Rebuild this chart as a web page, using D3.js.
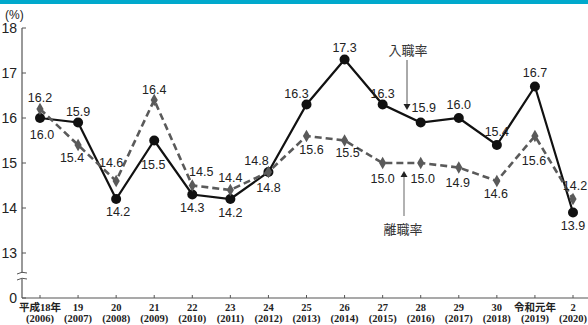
<!DOCTYPE html>
<html>
<head>
<meta charset="utf-8">
<script src="https://cdn.jsdelivr.net/npm/d3@7"></script>
<style>
  html, body { margin: 0; padding: 0; background: #fff; }
  svg { display: block; }
</style>
</head>
<body>
<svg id="chart" width="588" height="325"></svg>
<script>
const YEARS_JP = ['平成18年', '19', '20', '21', '22', '23', '24', '25', '26', '27', '28', '29', '30', '令和元年', '2'];
const YEARS_AD = ['(2006)', '(2007)', '(2008)', '(2009)', '(2010)', '(2011)', '(2012)', '(2013)', '(2014)', '(2015)', '(2016)', '(2017)', '(2018)', '(2019)', '(2020)'];
const HIRE_RATE = [16.0, 15.9, 14.2, 15.5, 14.3, 14.2, 14.8, 16.3, 17.3, 16.3, 15.9, 16.0, 15.4, 16.7, 13.9];
const SEP_RATE = [16.2, 15.4, 14.6, 16.4, 14.5, 14.4, 14.8, 15.6, 15.5, 15.0, 15.0, 14.9, 14.6, 15.6, 14.2];
const Y_TICKS = [0, 13, 14, 15, 16, 17, 18];

// label offsets [dx, dy] from each point
const HIRE_LABEL = [[2, 16], [0, -11], [2, 12], [-1, 24], [0, 13], [0, 13], [-12, -12], [-10, -11], [0, -12], [0, -11], [3, -15], [0, -14], [0, -14], [0, -14], [0, 13]];
const SEP_LABEL = [[0, -12], [-6, 12], [-5, -19], [0, -11], [9, -14], [0, -13], [0, 15], [5, 13], [3, 12], [0, 15], [2, 15], [-1, 15], [-1, 12], [-1, 24], [2, -14]];

const svg = d3.select('#chart');
const x = d3.scalePoint().domain(d3.range(YEARS_JP.length)).range([40, 573]);
const y = d3.scaleLinear().domain([0, 13, 18]).range([298, 253, 28]);
const axisX = 22;

svg.append('rect').attr('x', 0).attr('y', 0).attr('width', 588).attr('height', 4).attr('fill', '#00a9cc');

svg.append('text').attr('x', 5).attr('y', 19)
  .attr('font-family', 'Liberation Sans, Noto Sans CJK JP').attr('font-size', '12px').attr('fill', '#222')
  .text('(%)');

// y axis
svg.append('line').attr('x1', axisX).attr('x2', axisX).attr('y1', y(18)).attr('y2', y(0))
  .attr('stroke', '#555').attr('stroke-width', 1.2);
svg.append('g').selectAll('line').data(Y_TICKS).join('line')
  .attr('x1', axisX).attr('x2', axisX + 4)
  .attr('y1', (d) => y(d)).attr('y2', (d) => y(d))
  .attr('stroke', '#555').attr('stroke-width', 1);
svg.append('g').selectAll('text').data(Y_TICKS).join('text')
  .attr('x', 17).attr('y', (d) => y(d)).attr('dy', '0.36em')
  .attr('text-anchor', 'end')
  .attr('font-family', 'Liberation Sans, sans-serif').attr('font-size', '14px').attr('fill', '#222')
  .text((d) => d);

// axis break
svg.append('rect').attr('x', axisX - 3).attr('y', 273).attr('width', 6).attr('height', 6).attr('fill', '#fff');
[273, 279].forEach((yy) => {
  svg.append('path').attr('d', `M${axisX - 5},${yy + 1} Q${axisX},${yy - 2} ${axisX + 5},${yy}`)
    .attr('fill', 'none').attr('stroke', '#555').attr('stroke-width', 1);
});

// x axis
svg.append('line').attr('x1', axisX).attr('x2', 588).attr('y1', y(0)).attr('y2', y(0))
  .attr('stroke', '#555').attr('stroke-width', 1.2);
svg.append('g').selectAll('line').data(d3.range(YEARS_JP.length)).join('line')
  .attr('x1', (d) => x(d)).attr('x2', (d) => x(d))
  .attr('y1', y(0)).attr('y2', y(0) - 3)
  .attr('stroke', '#555').attr('stroke-width', 1);
const xl = svg.append('g')
  .attr('font-family', 'Liberation Serif, Noto Sans CJK JP').attr('font-size', '10.5px').attr('fill', '#222')
  .attr('font-weight', 'bold').attr('text-anchor', 'middle');
xl.selectAll('text.jp').data(YEARS_JP).join('text').attr('class', 'jp')
  .attr('x', (d, i) => x(i)).attr('y', 311).text((d) => d);
xl.selectAll('text.ad').data(YEARS_AD).join('text').attr('class', 'ad')
  .attr('x', (d, i) => x(i)).attr('y', 322).text((d) => d);

// series
const line = d3.line().x((d, i) => x(i)).y((d) => y(d));

svg.append('path').datum(HIRE_RATE).attr('d', line)
  .attr('fill', 'none').attr('stroke', '#111').attr('stroke-width', 2.2);
svg.append('g').selectAll('circle').data(HIRE_RATE).join('circle')
  .attr('cx', (d, i) => x(i)).attr('cy', (d) => y(d)).attr('r', 5).attr('fill', '#111');

svg.append('path').datum(SEP_RATE).attr('d', line)
  .attr('fill', 'none').attr('stroke', '#5a5a5a').attr('stroke-width', 2.6).attr('stroke-dasharray', '7,4');
svg.append('g').selectAll('path').data(SEP_RATE).join('path')
  .attr('d', d3.symbol().type(d3.symbolDiamond).size(45))
  .attr('transform', (d, i) => `translate(${x(i)},${y(d)})`)
  .attr('fill', '#5a5a5a');

const labelFont = (sel) => sel
  .attr('font-family', 'Liberation Sans, sans-serif').attr('font-size', '12.5px').attr('fill', '#222')
  .attr('text-anchor', 'middle').attr('dy', '0.36em');

svg.append('g').selectAll('text').data(HIRE_RATE).join('text')
  .attr('x', (d, i) => x(i) + HIRE_LABEL[i][0]).attr('y', (d, i) => y(d) + HIRE_LABEL[i][1])
  .call(labelFont).text((d) => d.toFixed(1));
svg.append('g').selectAll('text').data(SEP_RATE).join('text')
  .attr('x', (d, i) => x(i) + SEP_LABEL[i][0]).attr('y', (d, i) => y(d) + SEP_LABEL[i][1])
  .call(labelFont).text((d) => d.toFixed(1));

// annotations
const annFont = (sel) => sel
  .attr('font-family', 'Noto Sans CJK JP, sans-serif').attr('font-size', '13px').attr('fill', '#333')
  .attr('text-anchor', 'middle').attr('dy', '0.36em');
svg.append('text').attr('x', 408).attr('y', 50).call(annFont).text('入職率');
svg.append('line').attr('x1', 407).attr('x2', 407).attr('y1', 60).attr('y2', 104)
  .attr('stroke', '#555').attr('stroke-width', 1);
svg.append('path').attr('d', 'M403.5,104 L410.5,104 L407,110 Z').attr('fill', '#222');

svg.append('text').attr('x', 403).attr('y', 229).call(annFont).text('離職率');
svg.append('line').attr('x1', 404).attr('x2', 404).attr('y1', 216).attr('y2', 177)
  .attr('stroke', '#999').attr('stroke-width', 1.5);
svg.append('path').attr('d', 'M400.5,177 L407.5,177 L404,171 Z').attr('fill', '#222');
</script>
</body>
</html>
